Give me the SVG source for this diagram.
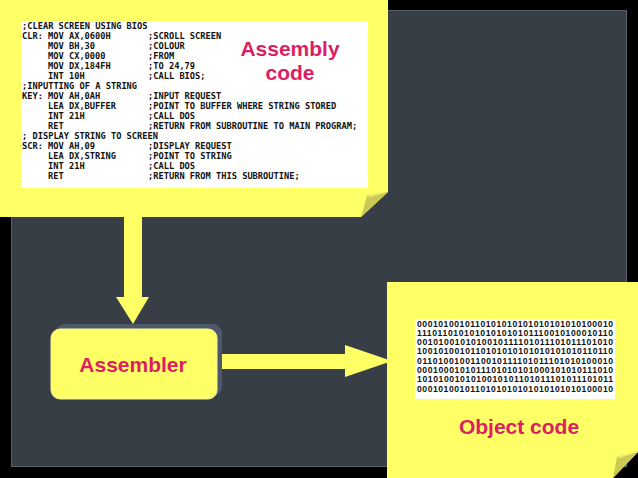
<svg xmlns="http://www.w3.org/2000/svg" width="638" height="478" viewBox="0 0 638 478">
<style>
.note{fill:#ffff66}
.flap{fill:#c9c953}
.flaphi{fill:#e6e67a}
.code{font-family:"DejaVu Sans Mono","Liberation Mono",monospace;font-weight:bold;font-size:8.7px;fill:#111}
.bin{font-family:"Liberation Sans","Arial",sans-serif;font-weight:bold;font-size:8.6px;fill:#111}
.lbl{font-family:"Liberation Sans","DejaVu Sans",sans-serif;font-weight:bold;font-size:21px;fill:#dc1e62;text-anchor:middle}
.arrow{fill:#ffff66}
</style>
<rect x="0" y="0" width="638" height="478" fill="#000"/>
<rect x="11.5" y="10.5" width="615" height="456" fill="#383e46" stroke="#5c6068" stroke-width="1"/>

<g id="connectors">
  <polygon class="arrow" points="124,217 142,217 142,297 149,297 133,324 116,297 124,297"/>
  <polygon class="arrow" points="217,354 345,354 345,345 392,361 345,377 345,369 217,369"/>
</g>

<g id="assembly-code">
  <polygon class="note" points="0,0 388,0 388,192 361,217 0,217"/>
  <polygon class="flap" points="388,192 367,196 361,217"/>
  <polygon class="flaphi" points="388,192 370,195.5 368,198"/>
  <rect x="21" y="21" width="347" height="167" fill="#fff"/>
  <g class="code">
    <text x="22" y="29">;CLEAR SCREEN USING BIOS</text>
    <text x="22" y="39">CLR:</text><text x="48" y="39">MOV AX,0600H</text><text x="148" y="39">;SCROLL SCREEN</text>
    <text x="48" y="49">MOV BH,30</text><text x="148" y="49">;COLOUR</text>
    <text x="48" y="59">MOV CX,0000</text><text x="148" y="59">;FROM</text>
    <text x="48" y="69">MOV DX,184FH</text><text x="148" y="69">;TO 24,79</text>
    <text x="48" y="79">INT 10H</text><text x="148" y="79">;CALL BIOS;</text>
    <text x="22" y="89">;INPUTTING OF A STRING</text>
    <text x="22" y="99">KEY:</text><text x="48" y="99">MOV AH,0AH</text><text x="148" y="99">;INPUT REQUEST</text>
    <text x="48" y="109">LEA DX,BUFFER</text><text x="148" y="109">;POINT TO BUFFER WHERE STRING STORED</text>
    <text x="48" y="119">INT 21H</text><text x="148" y="119">;CALL DOS</text>
    <text x="48" y="129">RET</text><text x="148" y="129">;RETURN FROM SUBROUTINE TO MAIN PROGRAM;</text>
    <text x="22" y="139">; DISPLAY STRING TO SCREEN</text>
    <text x="22" y="149">SCR:</text><text x="48" y="149">MOV AH,09</text><text x="148" y="149">;DISPLAY REQUEST</text>
    <text x="48" y="159">LEA DX,STRING</text><text x="148" y="159">;POINT TO STRING</text>
    <text x="48" y="169">INT 21H</text><text x="148" y="169">;CALL DOS</text>
    <text x="48" y="179">RET</text><text x="148" y="179">;RETURN FROM THIS SUBROUTINE;</text>
  </g>
  <text class="lbl" x="290" y="56">Assembly</text>
  <text class="lbl" x="290" y="80">code</text>
</g>

<g id="assembler">
  <rect x="56" y="324" width="166" height="72" rx="9" fill="#4e586a"/>
  <rect x="51" y="329" width="166" height="70" rx="9" fill="#ffff66" stroke="#f4f49a" stroke-width="1"/>
  <text class="lbl" x="133" y="372">Assembler</text>
</g>

<g id="object-code">
  <polygon class="note" points="387,282 638,282 638,452 613,478 387,478"/>
  <polygon class="flap" points="638,452 617,457 613,478"/>
  <polygon class="flaphi" points="638,452 620,456 618,459"/>
  <rect x="415" y="319" width="200" height="80" fill="#fff"/>
  <g class="bin">
    <text x="417" y="326.5" textLength="196" lengthAdjust="spacing">0001010010110101010101010101010100010</text>
    <text x="417" y="335.8" textLength="196" lengthAdjust="spacing">1110110101010101010101110010100010110</text>
    <text x="417" y="345.1" textLength="196" lengthAdjust="spacing">0010100101010010111101011101011101010</text>
    <text x="417" y="354.4" textLength="196" lengthAdjust="spacing">1001010010110101010101010101010110110</text>
    <text x="417" y="363.7" textLength="196" lengthAdjust="spacing">0110100100110010111101011101010100010</text>
    <text x="417" y="373" textLength="196" lengthAdjust="spacing">0001000101011101010101000101010111010</text>
    <text x="417" y="382.3" textLength="196" lengthAdjust="spacing">1010100101010010101101011101011101011</text>
    <text x="417" y="391.6" textLength="196" lengthAdjust="spacing">0001010010110101010101010101010100010</text>
  </g>
  <text class="lbl" x="519" y="434">Object code</text>
</g>
</svg>
